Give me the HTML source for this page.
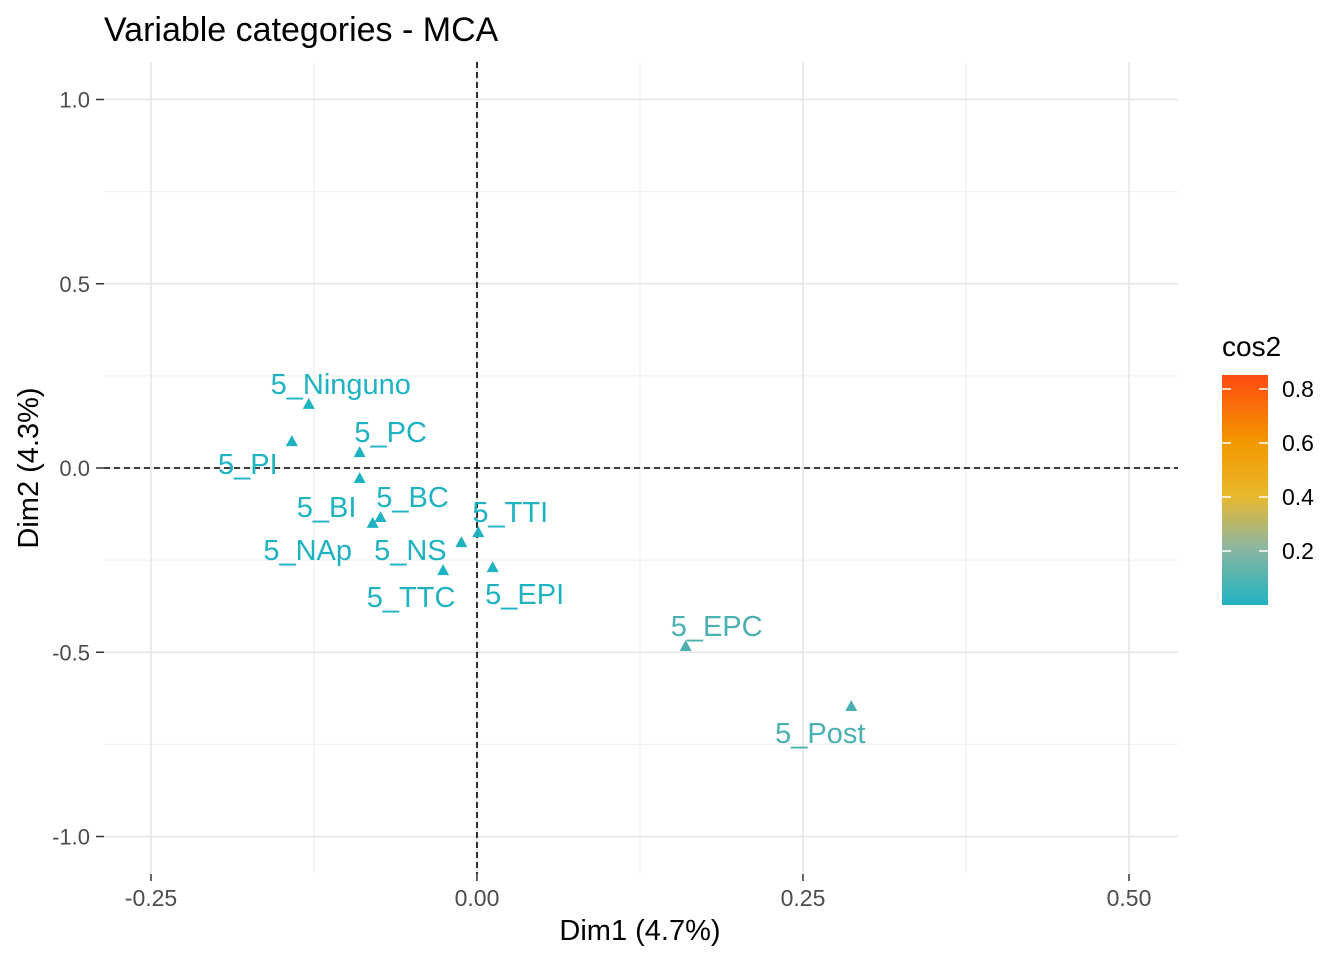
<!DOCTYPE html>
<html><head><meta charset="utf-8"><style>
body{margin:0;background:#fff;font-family:"Liberation Sans",Arial,sans-serif}
svg text{font-family:"Liberation Sans",Arial,sans-serif}
</style></head><body>
<svg id="c" width="1344" height="960">
<defs><linearGradient id="g" x1="0" y1="1" x2="0" y2="0">
<stop offset="0" stop-color="#1fb3c2"/><stop offset="0.25" stop-color="#8db6a0"/><stop offset="0.47" stop-color="#e8b830"/><stop offset="0.7" stop-color="#f29a00"/><stop offset="1" stop-color="#ff4a10"/></linearGradient></defs>
<text x="104" y="41" font-size="34" fill="#000">Variable categories - MCA</text>
<g id="grid"></g><g id="marks"></g>
<text x="640" y="940" font-size="29" text-anchor="middle">Dim1 (4.7%)</text>
<text transform="translate(38,468) rotate(-90)" font-size="29" text-anchor="middle">Dim2 (4.3%)</text>
<g>
<text x="1222" y="356" font-size="28">cos2</text>
<rect x="1222" y="375" width="46" height="230" fill="url(#g)"/>
<g id="leg"></g></g>
</svg>
<script>
const labels=["5_Ninguno","5_PI","5_PC","5_BI","5_BC","5_NAp","5_NS","5_TTI","5_TTC","5_EPI","5_EPC","5_Post"];
const dim1=[-0.129,-0.142,-0.090,-0.090,-0.074,-0.080,-0.012,0.001,-0.026,0.012,0.160,0.287];
const dim2=[0.174,0.073,0.043,-0.027,-0.133,-0.149,-0.201,-0.174,-0.277,-0.269,-0.483,-0.646];
const cos2=[0.05,0.04,0.03,0.02,0.03,0.03,0.03,0.02,0.04,0.04,0.12,0.15];
const xTicks=[-0.25,0,0.25,0.5], xTickLabels=["-0.25","0.00","0.25","0.50"];
const yTicks=[1,0.5,0,-0.5,-1], yTickLabels=["1.0","0.5","0.0","-0.5","-1.0"];
const legTicks=[0.8,0.6,0.4,0.2];
const lblDx=[32,-44,31,-33,32,-65,-51,32,-32,32,31,-31], lblDy=[-20,23,-20,29,-20,27,8,-20,27,27,-20,27];
const X=v=>477+v*1304, Y=v=>468-v*368.5, L=v=>605-v*270;
const NS="http://www.w3.org/2000/svg";
function mk(p,t,a){const e=document.createElementNS(NS,t);for(const k in a)e.setAttribute(k,a[k]);p.appendChild(e);return e;}
const grid=document.getElementById('grid'), marks=document.getElementById('marks'), leg=document.getElementById('leg');
for(let i=0;i<xTicks.length-1;i++){const m=(xTicks[i]+xTicks[i+1])/2;
 const e=mk(grid,'line',{x1:X(m),x2:X(m),y1:62,y2:874,stroke:'#f0f0f0','stroke-width':1.3});
 }
for(let i=0;i<yTicks.length-1;i++){const m=(yTicks[i]+yTicks[i+1])/2;
 const e=mk(grid,'line',{x1:104,x2:1178,y1:Y(m),y2:Y(m),stroke:'#f0f0f0','stroke-width':1.3});
 }
xTicks.forEach((t,i)=>{
 const e=mk(grid,'line',{x1:X(t),x2:X(t),y1:62,y2:874,stroke:'#e6e6e6','stroke-width':1.6});
 
 const k=mk(grid,'line',{x1:X(t),x2:X(t),y1:874,y2:881,stroke:'#333','stroke-width':1.5});
 
 const l=mk(grid,'text',{x:X(t),y:906,'font-size':23,fill:'#4d4d4d','text-anchor':'middle'});l.textContent=xTickLabels[i];
 });
yTicks.forEach((t,i)=>{
 const e=mk(grid,'line',{x1:104,x2:1178,y1:Y(t),y2:Y(t),stroke:'#e6e6e6','stroke-width':1.6});
 
 const k=mk(grid,'line',{x1:96,x2:104,y1:Y(t),y2:Y(t),stroke:'#333','stroke-width':1.5});
 
 const l=mk(grid,'text',{x:90,y:Y(t)+8,'font-size':22,fill:'#4d4d4d','text-anchor':'end'});l.textContent=yTickLabels[i];
 });
const h=mk(grid,'line',{x1:104,x2:1178,y1:Y(0),y2:Y(0),stroke:'#000','stroke-width':1.6,'stroke-dasharray':'6,4'});

const v=mk(grid,'line',{x1:X(0),x2:X(0),y1:62,y2:874,stroke:'#000','stroke-width':1.6,'stroke-dasharray':'6,4'});

function col(c){return c>0.08?'#4cb0b0':'#1fb3c2';}
labels.forEach((n,i)=>{const x=X(dim1[i]),y=Y(dim2[i]);
 const p=mk(marks,'polygon',{points:`${x},${y-6} ${x-6},${y+5} ${x+6},${y+5}`,fill:col(cos2[i])});
 
 const t=mk(marks,'text',{x:x+lblDx[i],y:y+lblDy[i]+10,'font-size':29,fill:col(cos2[i]),'text-anchor':'middle'});t.textContent=n;
 });
legTicks.forEach(t=>{
 const a=mk(leg,'line',{x1:1222,x2:1231,y1:L(t),y2:L(t),stroke:'#fff','stroke-width':1.5});
 
 const b=mk(leg,'line',{x1:1259,x2:1268,y1:L(t),y2:L(t),stroke:'#fff','stroke-width':1.5});
 
 const l=mk(leg,'text',{x:1282,y:L(t)+8,'font-size':23,fill:'#000'});l.textContent=t.toFixed(1);
 });
</script>
</body></html>
